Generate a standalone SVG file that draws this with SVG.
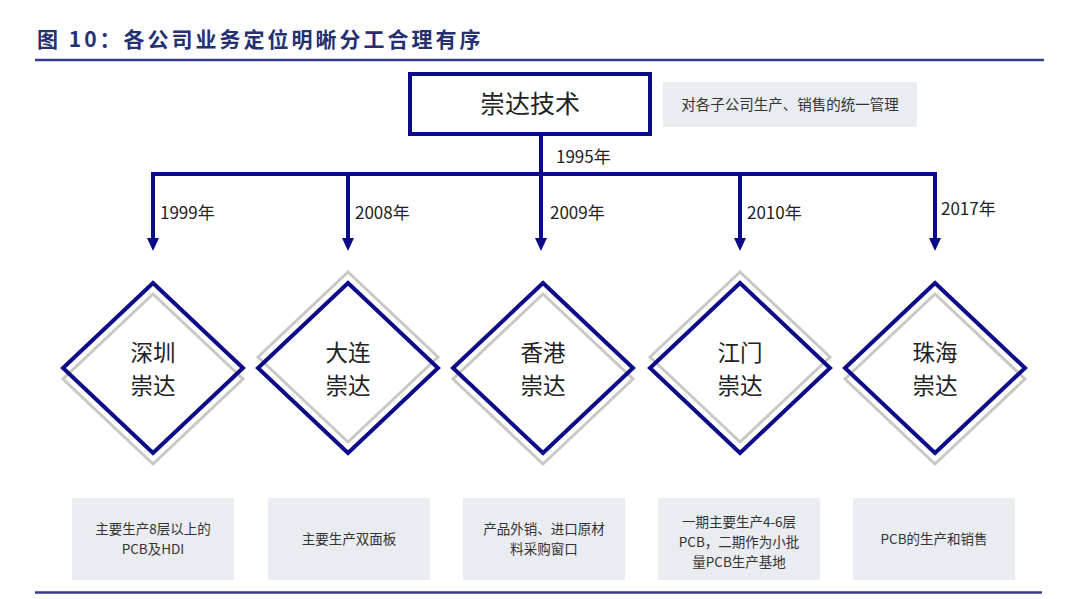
<svg xmlns="http://www.w3.org/2000/svg" width="1080" height="599" viewBox="0 0 1080 599">
<defs>
<style>
.title{font-family:"Noto Sans CJK SC","Liberation Sans",sans-serif;font-size:21px;font-weight:bold;fill:#24306f;letter-spacing:3px}
.rule{stroke:#373c8c;stroke-width:2.5;fill:none}
.conn{stroke:#0b0b8a;stroke-width:4;fill:none}
.head{fill:#0b0b8a}
.blue{stroke:#0b0b8a;stroke-width:4;fill:none}
.gray{stroke:#c9c8c2;stroke-width:3;fill:none}
.big{font-family:"Noto Sans CJK SC","Liberation Sans",sans-serif;font-size:25px;fill:#222;text-anchor:middle}
.dia{font-family:"Noto Sans CJK SC","Liberation Sans",sans-serif;font-size:22.5px;fill:#222;text-anchor:middle}
.year{font-family:"Noto Sans CJK SC","Liberation Sans",sans-serif;font-size:17px;fill:#222}
.note{fill:#e9ecf1}
.small{font-family:"Noto Sans CJK SC","Liberation Sans",sans-serif;font-size:13.5px;fill:#333;text-anchor:middle}
.mid{font-family:"Noto Sans CJK SC","Liberation Sans",sans-serif;font-size:14.5px;fill:#333;text-anchor:middle}
</style>
</defs>
<rect width="1080" height="599" fill="#fff"/>
<text class="title" x="37" y="47">图 10：各公司业务定位明晰分工合理有序</text>
<line class="rule" x1="35" y1="60" x2="1044" y2="60"/>
<line class="rule" x1="35" y1="592.5" x2="1042" y2="592.5"/>

<g id="root">
<rect class="blue" x="410" y="74" width="240" height="60"/>
<text class="big" x="530" y="113">崇达技术</text>
</g>
<g id="root-note">
<rect class="note" x="663" y="82" width="254" height="45"/>
<text class="mid" x="790" y="110">对各子公司生产、销售的统一管理</text>
</g>

<g id="connectors">
<path class="conn" d="M541,134 V174"/>
<path class="conn" d="M153,174 H935"/>
<path class="conn" d="M153,172 V240"/>
<path class="conn" d="M348,174 V240"/>
<path class="conn" d="M541,174 V240"/>
<path class="conn" d="M740,174 V240"/>
<path class="conn" d="M935,172 V240"/>
<polygon class="head" points="147,238 159,238 153,251"/>
<polygon class="head" points="342,238 354,238 348,251"/>
<polygon class="head" points="535,238 547,238 541,251"/>
<polygon class="head" points="734,238 746,238 740,251"/>
<polygon class="head" points="929,238 941,238 935,251"/>
<text class="year" x="556" y="163">1995年</text>
<text class="year" x="160" y="219">1999年</text>
<text class="year" x="355" y="219">2008年</text>
<text class="year" x="550" y="219">2009年</text>
<text class="year" x="747" y="219">2010年</text>
<text class="year" x="941" y="215">2017年</text>
</g>

<g id="shenzhen">
<polygon class="gray" points="153,294 243,379 153,464 63,379"/>
<polygon class="blue" points="153,283 243,368 153,453 63,368"/>
<text class="dia" x="153" y="361">深圳</text>
<text class="dia" x="153" y="394">崇达</text>
</g>
<g id="dalian">
<polygon class="gray" points="348,272 438,357 348,442 258,357"/>
<polygon class="blue" points="348,283 438,368 348,453 258,368"/>
<text class="dia" x="348" y="361">大连</text>
<text class="dia" x="348" y="394">崇达</text>
</g>
<g id="xianggang">
<polygon class="gray" points="543,294 633,379 543,464 453,379"/>
<polygon class="blue" points="543,283 633,368 543,453 453,368"/>
<text class="dia" x="543" y="361">香港</text>
<text class="dia" x="543" y="394">崇达</text>
</g>
<g id="jiangmen">
<polygon class="gray" points="740,272 830,357 740,442 650,357"/>
<polygon class="blue" points="740,283 830,368 740,453 650,368"/>
<text class="dia" x="740" y="361">江门</text>
<text class="dia" x="740" y="394">崇达</text>
</g>
<g id="zhuhai">
<polygon class="gray" points="935,294 1025,379 935,464 845,379"/>
<polygon class="blue" points="935,283 1025,368 935,453 845,368"/>
<text class="dia" x="935" y="361">珠海</text>
<text class="dia" x="935" y="394">崇达</text>
</g>

<g id="desc1">
<rect class="note" x="72" y="498" width="162" height="82"/>
<text class="small" x="153" y="534">主要生产8层以上的</text>
<text class="small" x="153" y="554">PCB及HDI</text>
</g>
<g id="desc2">
<rect class="note" x="268" y="498" width="162" height="82"/>
<text class="small" x="349" y="544">主要生产双面板</text>
</g>
<g id="desc3">
<rect class="note" x="463" y="498" width="162" height="82"/>
<text class="small" x="544" y="534">产品外销、进口原材</text>
<text class="small" x="544" y="554">料采购窗口</text>
</g>
<g id="desc4">
<rect class="note" x="658" y="498" width="162" height="82"/>
<text class="small" x="739" y="527">一期主要生产4-6层</text>
<text class="small" x="739" y="547">PCB，二期作为小批</text>
<text class="small" x="739" y="567">量PCB生产基地</text>
</g>
<g id="desc5">
<rect class="note" x="853" y="498" width="162" height="82"/>
<text class="small" x="934" y="544">PCB的生产和销售</text>
</g>
</svg>
